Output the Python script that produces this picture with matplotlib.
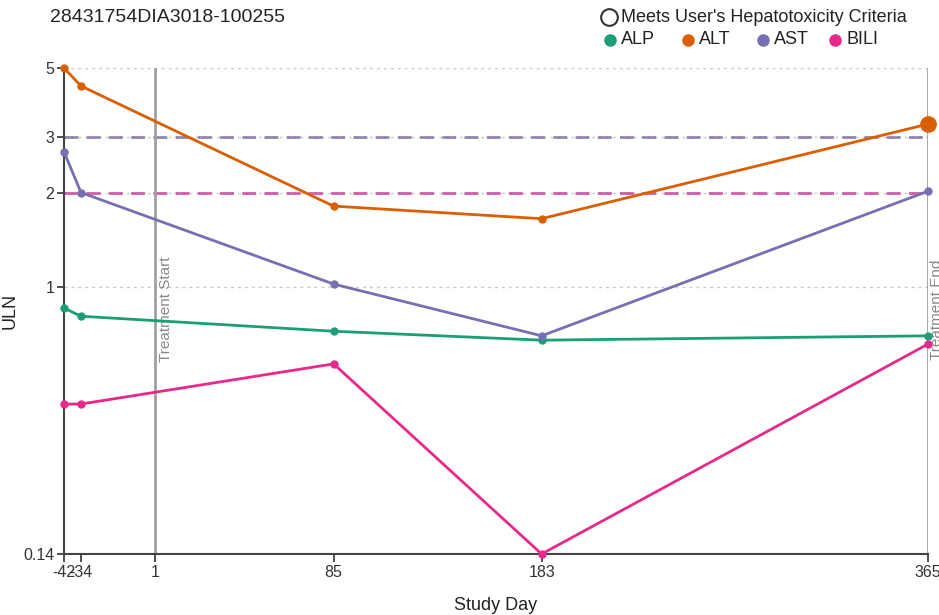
import numpy as np
import matplotlib
matplotlib.use("Agg")
import matplotlib.pyplot as plt
from matplotlib.lines import Line2D
from matplotlib.transforms import offset_copy

plt.rcParams['font.family'] = ['Liberation Sans', 'DejaVu Sans']

title = "28431754DIA3018-100255"
days = [-42, -34, 85, 183, 365]
tick_days = [-42, -34, 1, 85, 183, 365]
y_ticks = [0.14, 1, 2, 3, 5]

alp = [0.855, 0.805, 0.721, 0.675, 0.697]
alt = [5.0, 4.38, 1.81, 1.65, 3.31]
ast = [2.70, 2.0, 1.02, 0.697, 2.02]
bili = [0.422, 0.422, 0.567, 0.14, 0.656]

# which points meet the hepatotoxicity criteria (drawn larger)
alt_meets = [False, False, False, False, True]

series = {"ALP": alp, "ALT": alt, "AST": ast, "BILI": bili}
colors = {"ALP": "#1b9e77", "ALT": "#d95f02", "AST": "#7570b3", "BILI": "#e7298a"}

treat_start = 1
treat_end = 365

fig = plt.figure(figsize=(9.39, 6.15), dpi=100)
ax = fig.add_axes([64/939, 61/615, 864/939, 486/615])

ax.set_yscale('log')
ax.set_ylim(0.14, 5)
ax.set_xlim(-42, 365)

# grid
for v in [1, 2, 3, 5]:
    ax.axhline(v, color='#c8c8c8', lw=1, ls=(0, (2, 3)), zorder=0)

# reference lines
ax.axhline(3, color='#7a6a9a', lw=2, ls=(0, (5, 3)), alpha=0.8, zorder=1)
ax.axhline(2, color='#7570b3', lw=2, ls=(0, (5, 3)), alpha=0.5, zorder=1)
ax.axhline(2, color='#e7298a', lw=2, ls=(0, (5, 3)), alpha=0.6, zorder=1)

# treatment lines
ax.axvline(treat_start, color='#a0a0a0', lw=2, zorder=1)
ax.axvline(treat_end, color='#a0a0a0', lw=2, zorder=1)
ax.text(treat_start, 1.25, "Treatment Start", rotation=90, color='#888888', fontsize=11,
        ha='left', va='top', transform=offset_copy(ax.transData, fig=fig, x=4, y=0, units='dots'))
ax.text(treat_end, 1.22, "Treatment End", rotation=90, color='#888888', fontsize=11,
        ha='left', va='top', clip_on=False,
        transform=offset_copy(ax.transData, fig=fig, x=2, y=0, units='dots'))

for name, vals in series.items():
    ax.plot(days, vals, color=colors[name], lw=2, marker='o', ms=5, clip_on=False, zorder=3)

for d, v, m in zip(days, alt, alt_meets):
    if m:
        ax.plot([d], [v], marker='o', ms=11, color=colors["ALT"], clip_on=False, zorder=4)

ax.set_yticks(y_ticks)
ax.set_yticklabels([str(t) for t in y_ticks])
ax.yaxis.set_minor_locator(matplotlib.ticker.NullLocator())
ax.set_xticks(tick_days)
ax.set_xticklabels([str(t) for t in tick_days])
ax.tick_params(axis='both', labelsize=11.5, colors='#333333', length=5, width=1.2, pad=2)
ax.tick_params(axis='x', length=6)

for s in ['top', 'right']:
    ax.spines[s].set_visible(False)
for s in ['left', 'bottom']:
    ax.spines[s].set_color('#444444')
    ax.spines[s].set_linewidth(1.5)

ax.set_xlabel("Study Day", fontsize=13, color='#222222')
ax.xaxis.set_label_coords(0.5, -0.088)
ax.set_ylabel("ULN", fontsize=13, color='#222222')
ax.yaxis.set_label_coords(-0.053, 0.5)

fig.text(50/939, 1 - 18/615, title, fontsize=14, color='#222222', ha='left', va='center')

# legend
fig.add_artist(Line2D([609/939], [1 - 17/615], marker='o', ms=12, mfc='white', mec='#333333',
                      mew=1.5, transform=fig.transFigure))
fig.text(621/939, 1 - 17/615, "Meets User's Hepatotoxicity Criteria", fontsize=13,
         color='#222222', ha='left', va='center')
leg_x = [610, 688, 763, 835]
for x, name in zip(leg_x, series):
    fig.add_artist(Line2D([x/939], [1 - 40/615], marker='o', ms=8, color=colors[name],
                          transform=fig.transFigure))
    fig.text((x + 11)/939, 1 - 40/615, name, fontsize=13, color='#222222', ha='left', va='center')

fig.savefig("out.png", dpi=100)
